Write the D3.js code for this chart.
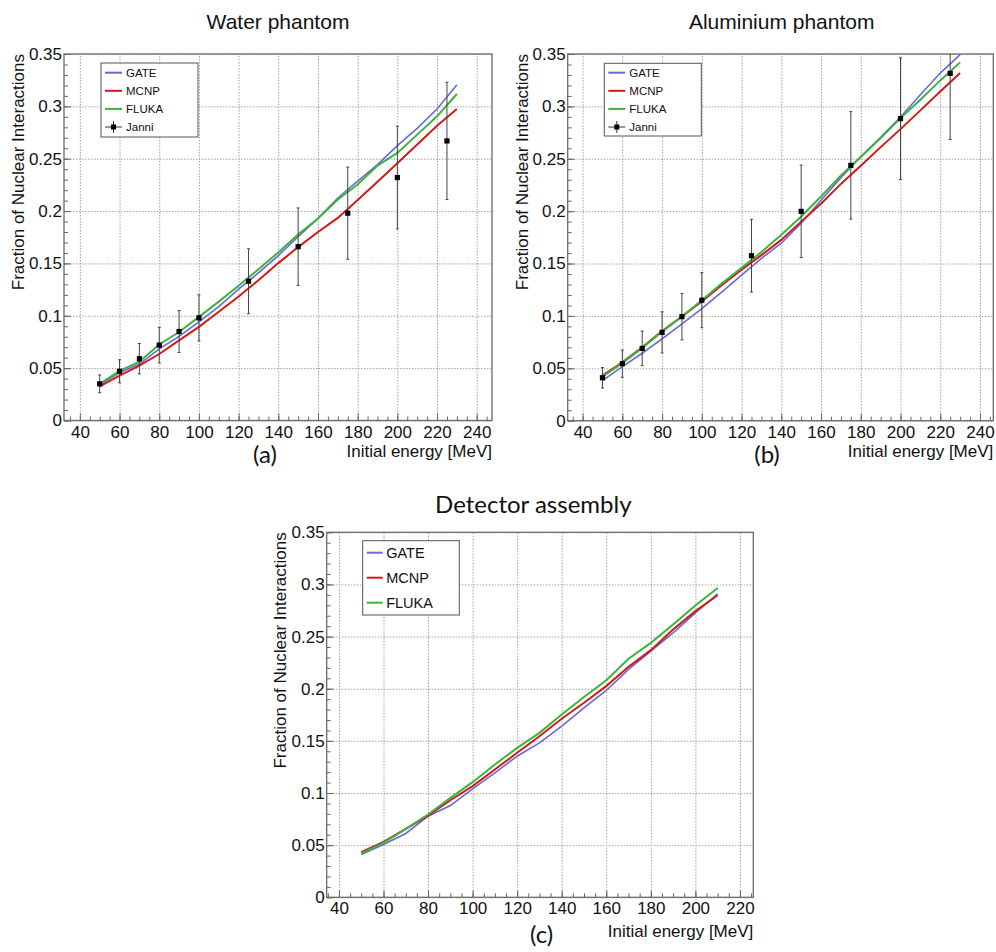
<!DOCTYPE html>
<html>
<head>
<meta charset="utf-8">
<title>Fraction of Nuclear Interactions</title>
<script src="https://d3js.org/d3.v7.min.js"></script>
<style>
  body { margin: 0; background: #fff; }
  svg { display: block; }
  text { font-family: "Liberation Sans", Arial, sans-serif; fill: #111; }
  .caption { font-family: Lato, "Open Sans", sans-serif; }
</style>
</head>
<body>
<svg id="chart" width="996" height="952"></svg>
<script>
// ---- data ----
const energyAB = [50, 60, 70, 80, 90, 100, 110, 120, 130, 140, 150, 160, 170, 180, 190, 200, 210, 220, 230];
const energyC = [50, 60, 70, 80, 90, 100, 110, 120, 130, 140, 150, 160, 170, 180, 190, 200, 210];
const janniEnergy = [50, 60, 70, 80, 90, 100, 125, 150, 175, 200, 225];

// (a) water phantom
const gateWater  = [0.034, 0.0458, 0.0539, 0.0684, 0.0803, 0.0942, 0.1087, 0.1255, 0.141, 0.1575, 0.1755, 0.193, 0.2125, 0.2285, 0.2444, 0.2625, 0.279, 0.2975, 0.3207];
const mcnpWater  = [0.0325, 0.0428, 0.0523, 0.0635, 0.0765, 0.0894, 0.1039, 0.1184, 0.134, 0.1503, 0.1656, 0.18, 0.1935, 0.2105, 0.228, 0.2456, 0.2636, 0.2815, 0.2974];
const flukaWater = [0.035, 0.0474, 0.0561, 0.0726, 0.0845, 0.099, 0.1135, 0.1287, 0.1445, 0.1605, 0.1775, 0.193, 0.211, 0.2253, 0.2434, 0.2555, 0.273, 0.2905, 0.3118];
const janniWater    = [0.035, 0.047, 0.059, 0.072, 0.085, 0.098, 0.133, 0.166, 0.198, 0.232, 0.267];
const janniWaterErr = [0.0085, 0.011, 0.0145, 0.017, 0.02, 0.022, 0.031, 0.037, 0.044, 0.049, 0.056];

// (b) aluminium phantom
const gateAlu  = [0.0382, 0.0516, 0.0644, 0.0781, 0.0925, 0.1069, 0.1228, 0.139, 0.155, 0.1694, 0.1885, 0.2105, 0.232, 0.2522, 0.2704, 0.2898, 0.3111, 0.3318, 0.3494];
const mcnpAlu  = [0.043, 0.0557, 0.0701, 0.0855, 0.0995, 0.1139, 0.1292, 0.1442, 0.158, 0.1726, 0.19, 0.207, 0.226, 0.2433, 0.2611, 0.2783, 0.2962, 0.3143, 0.3318];
const flukaAlu = [0.042, 0.055, 0.0695, 0.085, 0.0995, 0.115, 0.131, 0.146, 0.161, 0.1774, 0.1949, 0.214, 0.234, 0.2516, 0.2697, 0.2889, 0.3064, 0.3248, 0.342];
const janniAlu    = [0.041, 0.0545, 0.069, 0.0843, 0.0993, 0.115, 0.1575, 0.1998, 0.2437, 0.2883, 0.3315];
const janniAluErr = [0.0098, 0.013, 0.0165, 0.0196, 0.0222, 0.0263, 0.0347, 0.0441, 0.0513, 0.058, 0.063];

// (c) detector assembly
const gateDet  = [0.041, 0.0506, 0.0612, 0.0778, 0.088, 0.104, 0.1194, 0.1353, 0.1481, 0.1641, 0.1817, 0.1983, 0.2185, 0.236, 0.2536, 0.2728, 0.291];
const mcnpDet  = [0.0433, 0.0532, 0.0656, 0.0784, 0.0931, 0.1066, 0.1226, 0.1386, 0.1545, 0.1712, 0.1865, 0.2025, 0.221, 0.237, 0.2568, 0.2744, 0.2896];
const flukaDet = [0.042, 0.0522, 0.0656, 0.0794, 0.0954, 0.1104, 0.1274, 0.1433, 0.1577, 0.1753, 0.192, 0.2082, 0.2287, 0.244, 0.2616, 0.2799, 0.2966];

const xTicksAB = [40, 60, 80, 100, 120, 140, 160, 180, 200, 220, 240];
const xTicksC = [40, 60, 80, 100, 120, 140, 160, 180, 200, 220];
const yTicks = [0, 0.05, 0.1, 0.15, 0.2, 0.25, 0.3, 0.35];

const colors = { GATE: "#6868d8", MCNP: "#d21a1a", FLUKA: "#3cb43c" };

const svg = d3.select("#chart");

// draw one ROOT-style panel
function drawPanel(p) {
  const x = d3.scaleLinear().domain(p.xDomain).range([p.left, p.right]);
  const y = d3.scaleLinear().domain([0, 0.35]).range([p.bottom, p.top]);
  const g = svg.append("g");
  const w = p.right - p.left, h = p.bottom - p.top;

  // grid
  g.append("g")
    .attr("transform", `translate(0,${p.bottom})`)
    .call(d3.axisBottom(x).tickValues(p.xTicks).tickSize(-h).tickFormat(""))
    .call(s => s.select(".domain").remove())
    .selectAll("line").attr("stroke", "#a0a0a0").attr("stroke-dasharray", "1.5,1.5");
  g.append("g")
    .attr("transform", `translate(${p.left},0)`)
    .call(d3.axisLeft(y).tickValues(yTicks).tickSize(-w).tickFormat(""))
    .call(s => s.select(".domain").remove())
    .selectAll("line").attr("stroke", "#a0a0a0").attr("stroke-dasharray", "1.5,1.5");

  // minor ticks
  const xMinor = d3.range(Math.ceil(p.xDomain[0] / 5) * 5, p.xDomain[1], 5);
  g.append("g")
    .attr("transform", `translate(0,${p.bottom})`)
    .call(d3.axisBottom(x).tickValues(xMinor).tickSize(-4).tickFormat(""))
    .call(s => s.select(".domain").remove())
    .selectAll("line").attr("stroke", "#666");
  g.append("g")
    .attr("transform", `translate(${p.left},0)`)
    .call(d3.axisLeft(y).tickValues(d3.range(0, 0.351, 0.01)).tickSize(-4).tickFormat(""))
    .call(s => s.select(".domain").remove())
    .selectAll("line").attr("stroke", "#666");

  // major ticks + labels
  const xAxis = g.append("g")
    .attr("transform", `translate(0,${p.bottom})`)
    .call(d3.axisBottom(x).tickValues(p.xTicks).tickSize(-7).tickPadding(5));
  xAxis.select(".domain").remove();
  xAxis.selectAll("line").attr("stroke", "#666");
  xAxis.selectAll("text").style("font-size", "17px").attr("fill", "#111");

  const yAxis = g.append("g")
    .attr("transform", `translate(${p.left},0)`)
    .call(d3.axisLeft(y).tickValues(yTicks).tickSize(-7).tickPadding(2)
      .tickFormat(d => d === 0 ? "0" : String(+d.toFixed(2))));
  yAxis.select(".domain").remove();
  yAxis.selectAll("line").attr("stroke", "#666");
  yAxis.selectAll("text").style("font-size", "17px").attr("fill", "#111");

  // frame
  g.append("rect")
    .attr("x", p.left).attr("y", p.top).attr("width", w).attr("height", h)
    .attr("fill", "none").attr("stroke", "#6a6a6a").attr("stroke-width", 1.3);

  // curves
  const line = d3.line().x(d => x(d[0])).y(d => y(d[1]));
  p.series.forEach(s => {
    g.append("path")
      .datum(p.energy.map((e, i) => [e, s.values[i]]))
      .attr("d", line)
      .attr("fill", "none")
      .attr("stroke", colors[s.name])
      .attr("stroke-width", s.name === "GATE" ? 1.6 : 2);
  });

  // Janni points with error bars
  if (p.janni) {
    const pts = janniEnergy.map((e, i) => ({ e, v: p.janni[i], err: p.janniErr[i] }));
    const eb = g.append("g").attr("stroke", "#444").attr("stroke-width", 1);
    eb.selectAll(".bar").data(pts).join("line")
      .attr("x1", d => x(d.e)).attr("x2", d => x(d.e))
      .attr("y1", d => y(Math.min(d.v + d.err, 0.35))).attr("y2", d => y(d.v - d.err));
    eb.selectAll(".capTop").data(pts.filter(d => d.v + d.err < 0.35)).join("line")
      .attr("x1", d => x(d.e) - 1.5).attr("x2", d => x(d.e) + 1.5)
      .attr("y1", d => y(d.v + d.err)).attr("y2", d => y(d.v + d.err));
    eb.selectAll(".capBot").data(pts).join("line")
      .attr("x1", d => x(d.e) - 1.5).attr("x2", d => x(d.e) + 1.5)
      .attr("y1", d => y(d.v - d.err)).attr("y2", d => y(d.v - d.err));
    g.selectAll(".marker").data(pts).join("rect")
      .attr("x", d => x(d.e) - 2.6).attr("y", d => y(d.v) - 2.6)
      .attr("width", 5.2).attr("height", 5.2).attr("fill", "#000");
  }

  // legend
  const L = p.legend;
  const lg = g.append("g");
  lg.append("rect")
    .attr("x", L.x).attr("y", L.y).attr("width", L.w).attr("height", L.h)
    .attr("fill", "#fff").attr("stroke", "#555").attr("stroke-width", 1);
  const entries = p.series.map(s => s.name).concat(p.janni ? ["Janni"] : []);
  entries.forEach((name, i) => {
    const cy = L.y + L.first + i * L.step;
    if (name === "Janni") {
      lg.append("line").attr("x1", L.x + L.lx0).attr("x2", L.x + L.lx1).attr("y1", cy).attr("y2", cy)
        .attr("stroke", "#333").attr("stroke-width", 1);
      const mx = (2 * L.x + L.lx0 + L.lx1) / 2;
      lg.append("line").attr("x1", mx).attr("x2", mx).attr("y1", cy - 6).attr("y2", cy + 6)
        .attr("stroke", "#333").attr("stroke-width", 1);
      lg.append("rect").attr("x", mx - 2.5).attr("y", cy - 2.5).attr("width", 5).attr("height", 5).attr("fill", "#000");
    } else {
      lg.append("line").attr("x1", L.x + L.lx0).attr("x2", L.x + L.lx1).attr("y1", cy).attr("y2", cy)
        .attr("stroke", colors[name]).attr("stroke-width", 2);
    }
    lg.append("text").attr("x", L.x + L.tx).attr("y", cy).attr("dy", "0.36em")
      .style("font-size", L.font + "px").text(name);
  });

  // axis titles
  g.append("text")
    .attr("x", p.right).attr("y", p.xTitleY)
    .attr("text-anchor", "end").style("font-size", "17px")
    .text("Initial energy [MeV]");
  g.append("text")
    .attr("transform", `translate(${p.yTitleX},${p.top}) rotate(-90)`)
    .attr("text-anchor", "end").attr("dy", "0.35em").style("font-size", "17px")
    .text("Fraction of Nuclear Interactions");

  // panel title and caption
  g.append("text")
    .attr("class", p.titleClass || "")
    .attr("x", p.titleX).attr("y", p.titleY)
    .attr("text-anchor", "middle").style("font-size", p.titleSize + "px")
    .text(p.title);
  g.append("text")
    .attr("class", "caption")
    .attr("x", p.capX).attr("y", p.capY)
    .attr("text-anchor", "middle").style("font-size", "24px")
    .text(p.caption);
}

drawPanel({
  left: 64, right: 492, top: 54, bottom: 420.5,
  xDomain: [32, 247.7], xTicks: xTicksAB,
  energy: energyAB,
  series: [
    { name: "GATE", values: gateWater },
    { name: "MCNP", values: mcnpWater },
    { name: "FLUKA", values: flukaWater }
  ],
  janni: janniWater, janniErr: janniWaterErr,
  legend: { x: 101, y: 63, w: 97, h: 74, first: 9.7, step: 18.1, lx0: 4, lx1: 21, tx: 25, font: 11.5 },
  xTitleY: 457, yTitleX: 18,
  title: "Water phantom", titleX: 278, titleY: 29, titleSize: 21,
  caption: "(a)", capX: 265, capY: 463
});

drawPanel({
  left: 567.7, right: 993.3, top: 54, bottom: 420.7,
  xDomain: [32.5, 246.7], xTicks: xTicksAB,
  energy: energyAB,
  series: [
    { name: "GATE", values: gateAlu },
    { name: "MCNP", values: mcnpAlu },
    { name: "FLUKA", values: flukaAlu }
  ],
  janni: janniAlu, janniErr: janniAluErr,
  legend: { x: 604.3, y: 63.3, w: 97, h: 72.7, first: 9.4, step: 18.1, lx0: 4, lx1: 21, tx: 25, font: 11.5 },
  xTitleY: 457, yTitleX: 521.7,
  title: "Aluminium phantom", titleX: 781.7, titleY: 29, titleSize: 21,
  caption: "(b)", capX: 767, capY: 463
});

drawPanel({
  left: 326.7, right: 753.3, top: 532.3, bottom: 897.3,
  xDomain: [34.5, 226], xTicks: xTicksC,
  energy: energyC,
  series: [
    { name: "GATE", values: gateDet },
    { name: "MCNP", values: mcnpDet },
    { name: "FLUKA", values: flukaDet }
  ],
  legend: { x: 362.7, y: 540.7, w: 96.6, h: 74.3, first: 12, step: 25, lx0: 4, lx1: 20, tx: 23.5, font: 14.5 },
  xTitleY: 937, yTitleX: 280,
  title: "Detector assembly", titleClass: "caption", titleX: 533.3, titleY: 513, titleSize: 24,
  caption: "(c)", capX: 541.7, capY: 943
});
</script>
</body>
</html>
